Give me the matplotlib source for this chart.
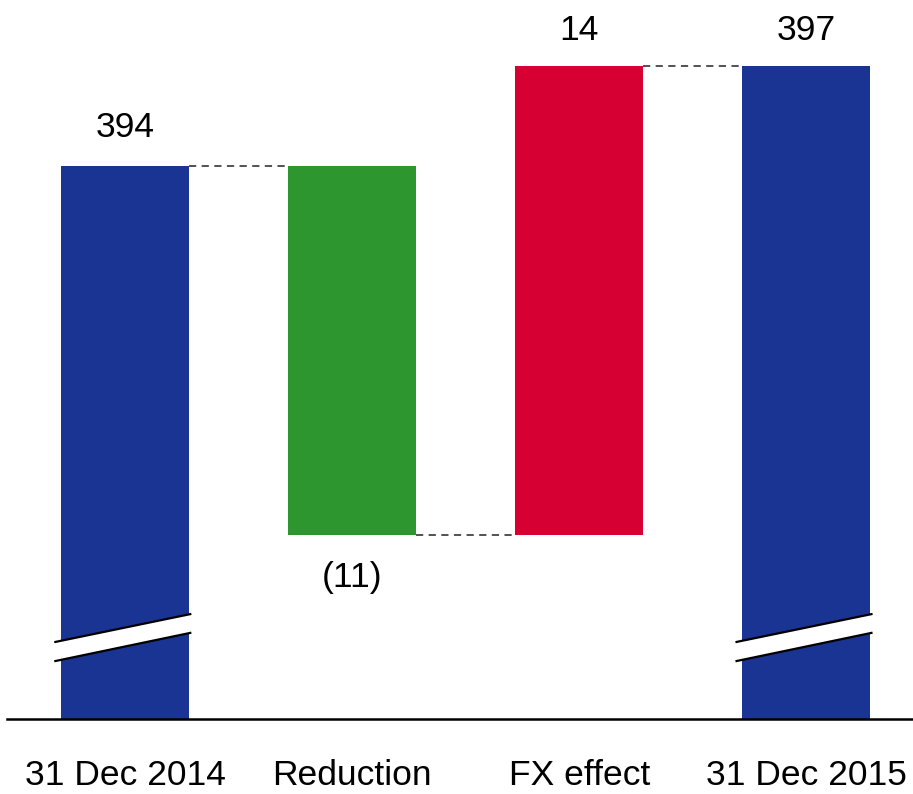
import matplotlib
matplotlib.use("Agg")
import matplotlib.pyplot as plt
from matplotlib.patches import Polygon

plt.rcParams['font.family'] = ['Liberation Sans', 'DejaVu Sans']

categories = ["31 Dec 2014", "Reduction", "FX effect", "31 Dec 2015"]
start_value = 394
changes = [-11, 14]
end_value = 397
labels = ["394", "(11)", "14", "397"]

blue = "#1A3494"
green = "#2E962E"
red = "#D70032"

fig = plt.figure(figsize=(9.13, 7.94), dpi=100)
ax = fig.add_axes([7 / 913, 75 / 794, 906 / 913, 719 / 794])

y_bottom = 377.5
y_top = 398.96
ax.set_ylim(y_bottom, y_top)
ax.set_xlim(-0.52, 3.47)

width = 0.564
x = list(range(len(categories)))

# waterfall bars
level_after_reduction = start_value + changes[0]
level_after_fx = level_after_reduction + changes[1]

ax.bar(x[0], start_value - y_bottom, bottom=y_bottom, width=width, color=blue)
ax.bar(x[1], -changes[0], bottom=level_after_reduction, width=width, color=green)
ax.bar(x[2], changes[1], bottom=level_after_reduction, width=width, color=red)
ax.bar(x[3], end_value - y_bottom, bottom=y_bottom, width=width, color=blue)

# dashed connectors
conn = dict(color="#444444", linestyle=(0, (4, 3)), linewidth=1.3)
ax.plot([x[0] + width / 2, x[1] - width / 2], [start_value] * 2, **conn)
ax.plot([x[1] + width / 2, x[2] - width / 2], [level_after_reduction] * 2, **conn)
ax.plot([x[2] + width / 2, x[3] - width / 2], [level_after_fx] * 2, **conn)

# value labels (offsets in points)
fs = 25.5
def value_label(xv, yv, text, dy):
    ax.annotate(text, (xv, yv), xytext=(0, dy), textcoords="offset points",
                ha="center", va="center", fontsize=fs)

value_label(x[0], start_value, labels[0], 28)
value_label(x[1], level_after_reduction, labels[1], -30.5)
value_label(x[2], level_after_fx, labels[2], 25.5)
value_label(x[3], end_value, labels[3], 25.5)

# axis break marks on the full-height bars
def break_mark(xc):
    x0 = xc - width / 2 - 0.025
    x1 = xc + width / 2 + 0.005
    y_hi0, y_hi1 = y_bottom + 2.30, y_bottom + 3.13
    y_lo0, y_lo1 = y_bottom + 1.73, y_bottom + 2.57
    ax.add_patch(Polygon([[x0, y_lo0], [x1, y_lo1], [x1, y_hi1], [x0, y_hi0]],
                         closed=True, facecolor="white", edgecolor="none", zorder=3))
    ax.plot([x0, x1], [y_hi0, y_hi1], color="black", linewidth=1.6, zorder=4)
    ax.plot([x0, x1], [y_lo0, y_lo1], color="black", linewidth=1.6, zorder=4)

break_mark(x[0])
break_mark(x[3])

# baseline and category labels
ax.axhline(y_bottom, color="black", linewidth=1.8, clip_on=False)
for xi, c in zip(x, categories):
    ax.annotate(c, (xi, y_bottom), xytext=(0, -40.5), textcoords="offset points",
                ha="center", va="center", fontsize=fs, annotation_clip=False)

for s in ax.spines.values():
    s.set_visible(False)
ax.set_xticks([])
ax.set_yticks([])

fig.savefig("out.png", dpi=100)
